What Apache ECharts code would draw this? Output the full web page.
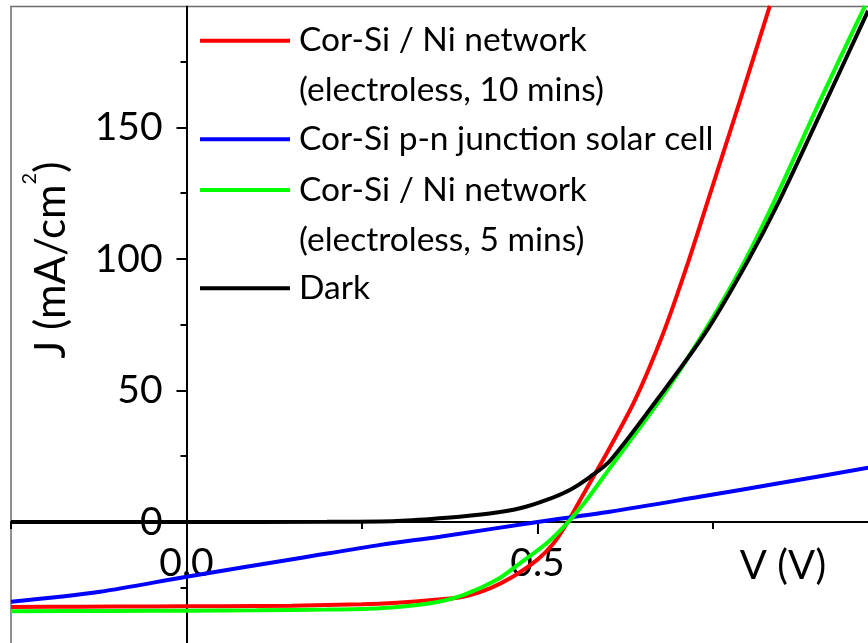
<!DOCTYPE html>
<html>
<head>
<meta charset="utf-8">
<script src="https://cdn.jsdelivr.net/npm/echarts@6/dist/echarts.min.js"></script>
<style>
  html, body { margin: 0; padding: 0; background: #fff; }
  #chart { width: 868px; height: 643px; }
</style>
</head>
<body>
<div id="chart"></div>
<script>
// J-V curves: voltage (V) and current density (mA/cm^2) per device
const voltNi10 = [-0.25, -0.15, -0.05, 0.05, 0.15, 0.25, 0.3, 0.35, 0.394, 0.432, 0.466, 0.5, 0.523, 0.542, 0.561, 0.58, 0.6, 0.639, 0.679, 0.7125, 0.743, 0.787, 0.831];
const currNi10 = [-32.3, -32.2, -32.1, -32.0, -31.8, -31.3, -30.7, -29.7, -28.4, -25.2, -20.6, -14.3, -8.1, -0.5, 8.5, 17.4, 26.8, 46.4, 71.7, 97.1, 122.4, 159.0, 196.2];

const voltPN = [-0.25, -0.123, 0, 0.162, 0.276, 0.361, 0.5, 0.603, 0.731, 0.85, 0.971];
const currPN = [-30.3, -26.5, -20.8, -13.7, -8.7, -5.6, 0, 3.9, 9.6, 15.0, 20.6];

const voltNi5 = [-0.25, -0.1, 0, 0.1, 0.2, 0.276, 0.347, 0.394, 0.442, 0.475, 0.513, 0.542, 0.57, 0.603, 0.6745, 0.736, 0.791, 0.838, 0.903, 0.9665];
const currNi5 = [-33.9, -33.8, -33.7, -33.6, -33.3, -32.8, -30.9, -27.8, -22.0, -15.7, -8.1, -0.5, 8.4, 20.5, 46.4, 71.7, 97.1, 122.4, 160.5, 196.2];

const voltDark = [-0.25, 0, 0.2, 0.3, 0.371, 0.432, 0.475, 0.513, 0.546, 0.575, 0.603, 0.67, 0.7386, 0.798, 0.845, 0.905, 0.971];
const currDark = [0, 0, 0.1, 0.4, 1.6, 3.2, 5.2, 8.4, 12.2, 17.2, 23.2, 46.4, 71.7, 98.5, 122.4, 156.5, 194.4];

// Series names (legend text)
const nameNi10 = 'Cor-Si / Ni network\n(electroless, 10 mins)';
const namePN = 'Cor-Si p-n junction solar cell';
const nameNi5 = 'Cor-Si / Ni network\n(electroless, 5 mins)';
const nameDark = 'Dark';

// Axis ticks and labels
const xLabelValues = [0, 0.5];
const xMajorTicks = [0, 0.5, 1.0];
const xMinorTicks = [-0.25, 0.25, 0.75];
const yLabelValues = [0, 50, 100, 150];
const yMajorTicks = [-50, 0, 50, 100, 150];
const yMinorTicks = [-25, 25, 75, 125, 175];

const FONT = 'Lato, "Open Sans", sans-serif';
const BLACK = '#000000';

// Plot frame (px) and data extents; the axes cross at V = 0, J = 0
const GRID = { left: 11, top: 6.5, right: -20.5, bottom: -10.5 };
const X_MIN = -0.25, X_MAX = 1.0, Y_MIN = -50, Y_MAX = 196;
const CHART_W = 868, CHART_H = 643;
const plotW = CHART_W - GRID.left - GRID.right;
const plotH = CHART_H - GRID.top - GRID.bottom;
// shift the axes from the frame edges to the zero lines
const xAxisOffset = -plotH * (0 - Y_MIN) / (Y_MAX - Y_MIN);
const yAxisOffset = -plotW * (0 - X_MIN) / (X_MAX - X_MIN);

function pairs(xs, ys) { return xs.map((x, i) => [x, ys[i]]); }
function isListed(v, list) { return list.some(t => Math.abs(t - v) < 1e-9); }

function legendFor(name, top, twoLine) {
  return {
    data: [name],
    left: 200,
    top: top,
    orient: 'vertical',
    padding: 0,
    icon: 'rect',
    itemWidth: 90,
    itemHeight: 4,
    // a blank leading line keeps the first text line level with the swatch
    formatter: twoLine ? (n => ' \n' + n) : (n => n),
    textStyle: {
      fontFamily: FONT,
      fontSize: 33.5,
      color: BLACK,
      lineHeight: 50,
      padding: [0, 0, 0, 4]
    }
  };
}

function lineSeries(name, xs, ys, color) {
  return {
    name: name,
    type: 'line',
    data: pairs(xs, ys),
    showSymbol: false,
    symbol: 'none',
    smooth: 0.3,
    clip: true,
    lineStyle: { color: color, width: 4 },
    itemStyle: { color: color },
    emphasis: { disabled: true }
  };
}

const option = {
  animation: false,
  backgroundColor: '#ffffff',
  grid: {
    left: GRID.left, top: GRID.top, right: GRID.right, bottom: GRID.bottom,
    containLabel: false,
    outerBoundsMode: 'none',
    show: true,
    borderColor: '#6b6b6b',
    borderWidth: 1.5,
    backgroundColor: 'transparent'
  },
  legend: [
    legendFor(nameNi10, -34.3, true),
    legendFor(namePN, 114.3, false),
    legendFor(nameNi5, 115, true),
    legendFor(nameDark, 263.3, false)
  ],
  xAxis: [
    {
      type: 'value', min: X_MIN, max: X_MAX, interval: 0.25, position: 'bottom', offset: xAxisOffset,
      axisLine: { show: true, onZero: false, lineStyle: { color: BLACK, width: 2 } },
      axisTick: { show: true, length: 12, customValues: xMajorTicks, lineStyle: { color: BLACK, width: 2 } },
      axisLabel: {
        show: true,
        formatter: v => isListed(v, xLabelValues) ? Number(v).toFixed(1) : '',
        fontFamily: FONT, fontSize: 39, color: BLACK, margin: 22
      },
      splitLine: { show: false },
      name: 'V (V)',
      nameLocation: 'end',
      nameGap: -105.5,
      nameTextStyle: {
        fontFamily: FONT, fontSize: 40, color: BLACK,
        align: 'center', verticalAlign: 'top', padding: [24, 0, 0, 0]
      }
    },
    {
      type: 'value', min: X_MIN, max: X_MAX, position: 'bottom', offset: xAxisOffset,
      axisLine: { show: false, onZero: false },
      axisTick: { show: true, length: 7, customValues: xMinorTicks, lineStyle: { color: BLACK, width: 2 } },
      axisLabel: { show: false },
      splitLine: { show: false }
    }
  ],
  yAxis: [
    {
      type: 'value', min: Y_MIN, max: Y_MAX, interval: 50, position: 'left', offset: yAxisOffset,
      axisLine: { show: true, onZero: false, lineStyle: { color: BLACK, width: 2 } },
      axisTick: { show: true, length: 10, customValues: yMajorTicks, lineStyle: { color: BLACK, width: 2 } },
      axisLabel: {
        show: true,
        showMaxLabel: false,
        formatter: v => isListed(v, yLabelValues) ? String(v) : '',
        fontFamily: FONT, fontSize: 39, color: BLACK, margin: 24,
        padding: [0, 0, 6, 0]
      },
      splitLine: { show: false },
      name: '{gap| }J (mA/cm{sup|2})',
      nameLocation: 'middle',
      nameRotate: 90,
      nameGap: 99,
      nameTextStyle: {
        fontFamily: FONT, fontSize: 42, color: BLACK, lineHeight: 64,
        rich: {
          gap: { width: 140, fontSize: 42 },
          sup: { fontFamily: FONT, fontSize: 20, color: BLACK, verticalAlign: 'top' }
        }
      }
    },
    {
      type: 'value', min: Y_MIN, max: Y_MAX, position: 'left', offset: yAxisOffset,
      axisLine: { show: false, onZero: false },
      axisTick: { show: true, length: 6, customValues: yMinorTicks, lineStyle: { color: BLACK, width: 2 } },
      axisLabel: { show: false },
      splitLine: { show: false }
    }
  ],
  series: [
    lineSeries(nameNi10, voltNi10, currNi10, '#ff0000'),
    lineSeries(namePN, voltPN, currPN, '#0000ff'),
    lineSeries(nameNi5, voltNi5, currNi5, '#00ff00'),
    lineSeries(nameDark, voltDark, currDark, '#000000')
  ]
};

const chart = echarts.init(document.getElementById('chart'), null, { renderer: 'canvas' });
chart.setOption(option);
</script>
</body>
</html>
